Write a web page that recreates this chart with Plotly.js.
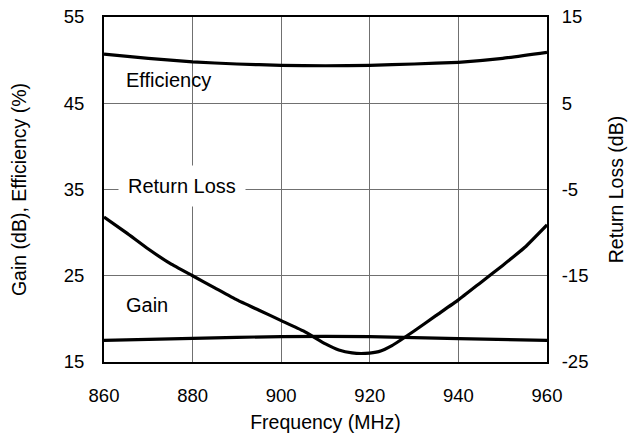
<!DOCTYPE html>
<html>
<head>
<meta charset="utf-8">
<script src="https://cdn.plot.ly/plotly-3.0.1.min.js"></script>
<style>html,body{margin:0;padding:0;background:#fff;}#chart{width:636px;height:440px;}</style>
</head>
<body>
<div id="chart"></div>
<script>
// Data
const freqTicks = [860, 880, 900, 920, 940, 960];
const leftTicks = [15, 25, 35, 45, 55];
const rightTicks = [-25, -15, -5, 5, 15];

const freqEff = [860, 870, 880, 890, 900, 910, 920, 930, 940, 950, 960];
const efficiency = [50.7, 50.2, 49.8, 49.55, 49.4, 49.35, 49.4, 49.55, 49.75, 50.2, 50.9];

const freqGain = [860, 880, 900, 920, 940, 960];
const gain = [17.5, 17.75, 17.95, 17.95, 17.7, 17.5];

const freqRL = [860, 865, 870, 875, 880, 885, 890, 895, 900, 905, 910, 913, 916, 919, 922, 925, 930, 935, 940, 945, 950, 955, 960];
const returnLoss = [-8.2, -10.0, -11.9, -13.6, -15.0, -16.4, -17.8, -19.0, -20.2, -21.4, -22.9, -23.6, -23.95, -24.0, -23.8, -23.1, -21.4, -19.6, -17.8, -15.8, -13.8, -11.7, -9.1];

const FONT = '"Liberation Sans", Arial, Helvetica, sans-serif';
const lineStyle = {color: '#000', width: 3.2, shape: 'spline', smoothing: 0.4};

const traces = [
  {x: freqEff, y: efficiency, type: 'scatter', mode: 'lines', name: 'Efficiency', line: lineStyle, yaxis: 'y'},
  {x: freqGain, y: gain, type: 'scatter', mode: 'lines', name: 'Gain', line: lineStyle, yaxis: 'y'},
  {x: freqRL, y: returnLoss, type: 'scatter', mode: 'lines', name: 'Return Loss', line: lineStyle, yaxis: 'y2'}
];

const axisCommon = {
  showline: true, linecolor: '#000', linewidth: 2, mirror: true,
  ticks: '', zeroline: false,
  gridcolor: '#707070', gridwidth: 1,
  tickfont: {family: FONT, size: 18.5, color: '#000'}
};

const layout = {
  width: 636, height: 440,
  margin: {l: 104, r: 89, t: 17, b: 78, pad: 0},
  paper_bgcolor: '#fff', plot_bgcolor: '#fff',
  showlegend: false,
  font: {family: FONT, color: '#000'},
  xaxis: Object.assign({}, axisCommon, {
    range: [860, 960], tickvals: freqTicks, ticktext: freqTicks.map(String),
    showgrid: true, ticklabelstandoff: 16,
    title: {text: 'Frequency (MHz)', font: {family: FONT, size: 19.5, color: '#000'}, standoff: 10}
  }),
  yaxis: Object.assign({}, axisCommon, {
    range: [15, 55], tickvals: leftTicks, ticktext: leftTicks.map(String),
    showgrid: true, ticklabelstandoff: 14,
    title: {text: 'Gain (dB), Efficiency (%)', font: {family: FONT, size: 19.5, color: '#000'}, standoff: 32}
  }),
  yaxis2: Object.assign({}, axisCommon, {
    range: [-25, 15], tickvals: rightTicks, ticktext: rightTicks.map(String),
    overlaying: 'y', side: 'right', showgrid: false, mirror: false, ticklabelstandoff: 9,
    title: {text: 'Return Loss (dB)', font: {family: FONT, size: 19.5, color: '#000'}, standoff: 22}
  }),
  annotations: [
    {x: 864.5, y: 47.7, xref: 'x', yref: 'y', text: 'Efficiency', showarrow: false, xanchor: 'left', yanchor: 'middle',
     font: {family: FONT, size: 20, color: '#000'}},
    {x: 863.2, y: 35.4, xref: 'x', yref: 'y', text: 'Return Loss', showarrow: false, xanchor: 'left', yanchor: 'middle',
     bgcolor: '#fff', borderpad: 9, font: {family: FONT, size: 20, color: '#000'}},
    {x: 864.5, y: 21.6, xref: 'x', yref: 'y', text: 'Gain', showarrow: false, xanchor: 'left', yanchor: 'middle',
     font: {family: FONT, size: 20, color: '#000'}}
  ]
};

Plotly.newPlot('chart', traces, layout, {displayModeBar: false, staticPlot: true});
</script>
</body>
</html>
